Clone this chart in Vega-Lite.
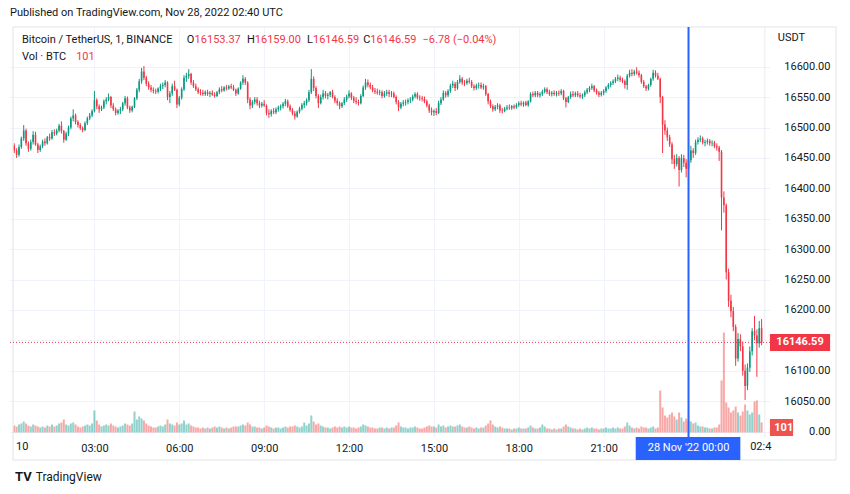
{
"$schema":"https://vega.github.io/schema/vega-lite/v6.json",
"width":761,"height":410,
"autosize":"none",
"padding":{"left":9,"top":27,"right":80,"bottom":57},
"background":"#ffffff",
"config":{"view":{"stroke":null},"font":"Roboto"},
"title":{"text":"Published on TradingView.com, Nov 28, 2022 02:40 UTC","anchor":"start","frame":"group","offset":8,"fontSize":11,"fontWeight":"normal","color":"#131722","font":"Roboto","dx":1},
"datasets":{"one":[{}],"candles":[
{"t":"2022-11-27T00:10","o":16470,"h":16474,"l":16458,"c":16462,"v":70},
{"t":"2022-11-27T00:15","o":16462,"h":16466,"l":16450,"c":16455,"v":60},
{"t":"2022-11-27T00:20","o":16455,"h":16472,"l":16452,"c":16468,"v":80},
{"t":"2022-11-27T00:25","o":16468,"h":16485,"l":16465,"c":16482,"v":90},
{"t":"2022-11-27T00:30","o":16482,"h":16504,"l":16478,"c":16495,"v":110},
{"t":"2022-11-27T00:35","o":16495,"h":16498,"l":16470,"c":16474,"v":90},
{"t":"2022-11-27T00:40","o":16474,"h":16477,"l":16460,"c":16465,"v":70},
{"t":"2022-11-27T00:45","o":16465,"h":16480,"l":16462,"c":16476,"v":60},
{"t":"2022-11-27T00:50","o":16476,"h":16494,"l":16472,"c":16488,"v":80},
{"t":"2022-11-27T00:55","o":16488,"h":16493,"l":16470,"c":16472,"v":70},
{"t":"2022-11-27T01:00","o":16472,"h":16475,"l":16458,"c":16463,"v":60},
{"t":"2022-11-27T01:05","o":16463,"h":16472,"l":16460,"c":16469,"v":50},
{"t":"2022-11-27T01:10","o":16469,"h":16480,"l":16466,"c":16477,"v":60},
{"t":"2022-11-27T01:15","o":16477,"h":16482,"l":16470,"c":16474,"v":50},
{"t":"2022-11-27T01:20","o":16474,"h":16486,"l":16472,"c":16484,"v":70},
{"t":"2022-11-27T01:25","o":16484,"h":16490,"l":16478,"c":16482,"v":60},
{"t":"2022-11-27T01:30","o":16482,"h":16496,"l":16480,"c":16492,"v":80},
{"t":"2022-11-27T01:35","o":16492,"h":16497,"l":16486,"c":16490,"v":60},
{"t":"2022-11-27T01:40","o":16490,"h":16498,"l":16487,"c":16495,"v":70},
{"t":"2022-11-27T01:45","o":16495,"h":16506,"l":16492,"c":16503,"v":90},
{"t":"2022-11-27T01:50","o":16503,"h":16510,"l":16490,"c":16494,"v":100},
{"t":"2022-11-27T01:55","o":16494,"h":16496,"l":16475,"c":16480,"v":130},
{"t":"2022-11-27T02:00","o":16480,"h":16493,"l":16478,"c":16490,"v":80},
{"t":"2022-11-27T02:05","o":16490,"h":16503,"l":16486,"c":16500,"v":70},
{"t":"2022-11-27T02:10","o":16500,"h":16518,"l":16497,"c":16515,"v":90},
{"t":"2022-11-27T02:15","o":16515,"h":16530,"l":16510,"c":16520,"v":100},
{"t":"2022-11-27T02:20","o":16520,"h":16523,"l":16505,"c":16509,"v":80},
{"t":"2022-11-27T02:25","o":16509,"h":16512,"l":16500,"c":16504,"v":60},
{"t":"2022-11-27T02:30","o":16504,"h":16507,"l":16496,"c":16499,"v":50},
{"t":"2022-11-27T02:35","o":16499,"h":16502,"l":16492,"c":16496,"v":60},
{"t":"2022-11-27T02:40","o":16496,"h":16510,"l":16494,"c":16507,"v":70},
{"t":"2022-11-27T02:45","o":16507,"h":16518,"l":16504,"c":16515,"v":80},
{"t":"2022-11-27T02:50","o":16515,"h":16524,"l":16512,"c":16520,"v":70},
{"t":"2022-11-27T02:55","o":16520,"h":16530,"l":16517,"c":16527,"v":90},
{"t":"2022-11-27T03:00","o":16527,"h":16560,"l":16525,"c":16545,"v":220},
{"t":"2022-11-27T03:05","o":16545,"h":16548,"l":16530,"c":16535,"v":120},
{"t":"2022-11-27T03:10","o":16535,"h":16538,"l":16524,"c":16530,"v":80},
{"t":"2022-11-27T03:15","o":16530,"h":16536,"l":16527,"c":16533,"v":60},
{"t":"2022-11-27T03:20","o":16533,"h":16546,"l":16530,"c":16543,"v":70},
{"t":"2022-11-27T03:25","o":16543,"h":16550,"l":16538,"c":16546,"v":80},
{"t":"2022-11-27T03:30","o":16546,"h":16556,"l":16543,"c":16550,"v":70},
{"t":"2022-11-27T03:35","o":16550,"h":16552,"l":16532,"c":16536,"v":90},
{"t":"2022-11-27T03:40","o":16536,"h":16540,"l":16527,"c":16530,"v":70},
{"t":"2022-11-27T03:45","o":16530,"h":16533,"l":16520,"c":16524,"v":60},
{"t":"2022-11-27T03:50","o":16524,"h":16530,"l":16521,"c":16528,"v":50},
{"t":"2022-11-27T03:55","o":16528,"h":16534,"l":16522,"c":16530,"v":60},
{"t":"2022-11-27T04:00","o":16530,"h":16542,"l":16527,"c":16540,"v":70},
{"t":"2022-11-27T04:05","o":16540,"h":16552,"l":16536,"c":16548,"v":90},
{"t":"2022-11-27T04:10","o":16548,"h":16551,"l":16530,"c":16533,"v":80},
{"t":"2022-11-27T04:15","o":16533,"h":16536,"l":16524,"c":16528,"v":70},
{"t":"2022-11-27T04:20","o":16528,"h":16536,"l":16525,"c":16534,"v":90},
{"t":"2022-11-27T04:25","o":16534,"h":16550,"l":16532,"c":16548,"v":210},
{"t":"2022-11-27T04:30","o":16548,"h":16565,"l":16545,"c":16562,"v":130},
{"t":"2022-11-27T04:35","o":16562,"h":16580,"l":16558,"c":16576,"v":160},
{"t":"2022-11-27T04:40","o":16576,"h":16598,"l":16572,"c":16592,"v":140},
{"t":"2022-11-27T04:45","o":16592,"h":16601,"l":16578,"c":16582,"v":120},
{"t":"2022-11-27T04:50","o":16582,"h":16585,"l":16568,"c":16572,"v":90},
{"t":"2022-11-27T04:55","o":16572,"h":16576,"l":16562,"c":16566,"v":70},
{"t":"2022-11-27T05:00","o":16566,"h":16570,"l":16558,"c":16562,"v":60},
{"t":"2022-11-27T05:05","o":16562,"h":16566,"l":16556,"c":16560,"v":50},
{"t":"2022-11-27T05:10","o":16560,"h":16564,"l":16555,"c":16559,"v":50},
{"t":"2022-11-27T05:15","o":16559,"h":16566,"l":16556,"c":16564,"v":60},
{"t":"2022-11-27T05:20","o":16564,"h":16572,"l":16560,"c":16568,"v":70},
{"t":"2022-11-27T05:25","o":16568,"h":16574,"l":16563,"c":16570,"v":60},
{"t":"2022-11-27T05:30","o":16570,"h":16578,"l":16566,"c":16574,"v":80},
{"t":"2022-11-27T05:35","o":16574,"h":16576,"l":16545,"c":16550,"v":130},
{"t":"2022-11-27T05:40","o":16550,"h":16560,"l":16540,"c":16556,"v":90},
{"t":"2022-11-27T05:45","o":16556,"h":16572,"l":16552,"c":16568,"v":80},
{"t":"2022-11-27T05:50","o":16568,"h":16577,"l":16560,"c":16562,"v":70},
{"t":"2022-11-27T05:55","o":16562,"h":16564,"l":16532,"c":16538,"v":100},
{"t":"2022-11-27T06:00","o":16538,"h":16552,"l":16535,"c":16549,"v":80},
{"t":"2022-11-27T06:05","o":16549,"h":16566,"l":16546,"c":16563,"v":90},
{"t":"2022-11-27T06:10","o":16563,"h":16586,"l":16560,"c":16582,"v":120},
{"t":"2022-11-27T06:15","o":16582,"h":16590,"l":16575,"c":16585,"v":80},
{"t":"2022-11-27T06:20","o":16585,"h":16596,"l":16580,"c":16588,"v":90},
{"t":"2022-11-27T06:25","o":16588,"h":16590,"l":16570,"c":16574,"v":70},
{"t":"2022-11-27T06:30","o":16574,"h":16578,"l":16565,"c":16568,"v":60},
{"t":"2022-11-27T06:35","o":16568,"h":16572,"l":16560,"c":16563,"v":50},
{"t":"2022-11-27T06:40","o":16563,"h":16566,"l":16555,"c":16558,"v":50},
{"t":"2022-11-27T06:45","o":16558,"h":16563,"l":16553,"c":16557,"v":40},
{"t":"2022-11-27T06:50","o":16557,"h":16562,"l":16552,"c":16555,"v":50},
{"t":"2022-11-27T06:55","o":16555,"h":16561,"l":16552,"c":16558,"v":40},
{"t":"2022-11-27T07:00","o":16558,"h":16562,"l":16552,"c":16555,"v":50},
{"t":"2022-11-27T07:05","o":16555,"h":16560,"l":16550,"c":16557,"v":40},
{"t":"2022-11-27T07:10","o":16557,"h":16561,"l":16552,"c":16554,"v":50},
{"t":"2022-11-27T07:15","o":16554,"h":16558,"l":16549,"c":16552,"v":60},
{"t":"2022-11-27T07:20","o":16552,"h":16560,"l":16550,"c":16558,"v":50},
{"t":"2022-11-27T07:25","o":16558,"h":16566,"l":16555,"c":16563,"v":60},
{"t":"2022-11-27T07:30","o":16563,"h":16568,"l":16558,"c":16561,"v":50},
{"t":"2022-11-27T07:35","o":16561,"h":16568,"l":16559,"c":16566,"v":40},
{"t":"2022-11-27T07:40","o":16566,"h":16570,"l":16561,"c":16564,"v":50},
{"t":"2022-11-27T07:45","o":16564,"h":16570,"l":16562,"c":16568,"v":40},
{"t":"2022-11-27T07:50","o":16568,"h":16572,"l":16563,"c":16566,"v":50},
{"t":"2022-11-27T07:55","o":16566,"h":16570,"l":16560,"c":16562,"v":60},
{"t":"2022-11-27T08:00","o":16562,"h":16564,"l":16552,"c":16556,"v":60},
{"t":"2022-11-27T08:05","o":16556,"h":16566,"l":16554,"c":16564,"v":60},
{"t":"2022-11-27T08:10","o":16564,"h":16576,"l":16562,"c":16574,"v":70},
{"t":"2022-11-27T08:15","o":16574,"h":16586,"l":16570,"c":16580,"v":80},
{"t":"2022-11-27T08:20","o":16580,"h":16583,"l":16570,"c":16574,"v":70},
{"t":"2022-11-27T08:25","o":16574,"h":16576,"l":16540,"c":16546,"v":100},
{"t":"2022-11-27T08:30","o":16546,"h":16550,"l":16530,"c":16536,"v":80},
{"t":"2022-11-27T08:35","o":16536,"h":16545,"l":16532,"c":16542,"v":60},
{"t":"2022-11-27T08:40","o":16542,"h":16550,"l":16538,"c":16546,"v":60},
{"t":"2022-11-27T08:45","o":16546,"h":16550,"l":16536,"c":16540,"v":50},
{"t":"2022-11-27T08:50","o":16540,"h":16544,"l":16532,"c":16536,"v":50},
{"t":"2022-11-27T08:55","o":16536,"h":16542,"l":16533,"c":16539,"v":40},
{"t":"2022-11-27T09:00","o":16539,"h":16545,"l":16534,"c":16536,"v":50},
{"t":"2022-11-27T09:05","o":16536,"h":16538,"l":16520,"c":16524,"v":70},
{"t":"2022-11-27T09:10","o":16524,"h":16530,"l":16516,"c":16522,"v":60},
{"t":"2022-11-27T09:15","o":16522,"h":16530,"l":16518,"c":16527,"v":50},
{"t":"2022-11-27T09:20","o":16527,"h":16532,"l":16522,"c":16525,"v":40},
{"t":"2022-11-27T09:25","o":16525,"h":16533,"l":16522,"c":16530,"v":50},
{"t":"2022-11-27T09:30","o":16530,"h":16536,"l":16526,"c":16533,"v":50},
{"t":"2022-11-27T09:35","o":16533,"h":16538,"l":16528,"c":16535,"v":40},
{"t":"2022-11-27T09:40","o":16535,"h":16542,"l":16531,"c":16539,"v":50},
{"t":"2022-11-27T09:45","o":16539,"h":16547,"l":16535,"c":16543,"v":60},
{"t":"2022-11-27T09:50","o":16543,"h":16546,"l":16532,"c":16535,"v":50},
{"t":"2022-11-27T09:55","o":16535,"h":16538,"l":16526,"c":16529,"v":60},
{"t":"2022-11-27T10:00","o":16529,"h":16532,"l":16520,"c":16523,"v":60},
{"t":"2022-11-27T10:05","o":16523,"h":16527,"l":16513,"c":16518,"v":70},
{"t":"2022-11-27T10:10","o":16518,"h":16528,"l":16516,"c":16526,"v":60},
{"t":"2022-11-27T10:15","o":16526,"h":16534,"l":16523,"c":16531,"v":50},
{"t":"2022-11-27T10:20","o":16531,"h":16540,"l":16528,"c":16537,"v":60},
{"t":"2022-11-27T10:25","o":16537,"h":16544,"l":16532,"c":16540,"v":100},
{"t":"2022-11-27T10:30","o":16540,"h":16548,"l":16536,"c":16545,"v":70},
{"t":"2022-11-27T10:35","o":16545,"h":16562,"l":16542,"c":16558,"v":90},
{"t":"2022-11-27T10:40","o":16558,"h":16596,"l":16555,"c":16580,"v":170},
{"t":"2022-11-27T10:45","o":16580,"h":16584,"l":16560,"c":16565,"v":110},
{"t":"2022-11-27T10:50","o":16565,"h":16568,"l":16548,"c":16552,"v":80},
{"t":"2022-11-27T10:55","o":16552,"h":16555,"l":16532,"c":16540,"v":90},
{"t":"2022-11-27T11:00","o":16540,"h":16554,"l":16538,"c":16550,"v":70},
{"t":"2022-11-27T11:05","o":16550,"h":16562,"l":16546,"c":16556,"v":60},
{"t":"2022-11-27T11:10","o":16556,"h":16560,"l":16548,"c":16552,"v":50},
{"t":"2022-11-27T11:15","o":16552,"h":16557,"l":16546,"c":16554,"v":50},
{"t":"2022-11-27T11:20","o":16554,"h":16560,"l":16550,"c":16558,"v":40},
{"t":"2022-11-27T11:25","o":16558,"h":16562,"l":16548,"c":16550,"v":50},
{"t":"2022-11-27T11:30","o":16550,"h":16553,"l":16540,"c":16544,"v":60},
{"t":"2022-11-27T11:35","o":16544,"h":16548,"l":16536,"c":16540,"v":50},
{"t":"2022-11-27T11:40","o":16540,"h":16543,"l":16530,"c":16535,"v":60},
{"t":"2022-11-27T11:45","o":16535,"h":16542,"l":16532,"c":16540,"v":50},
{"t":"2022-11-27T11:50","o":16540,"h":16550,"l":16537,"c":16546,"v":60},
{"t":"2022-11-27T11:55","o":16546,"h":16554,"l":16542,"c":16551,"v":50},
{"t":"2022-11-27T12:00","o":16551,"h":16561,"l":16548,"c":16556,"v":60},
{"t":"2022-11-27T12:05","o":16556,"h":16558,"l":16545,"c":16549,"v":50},
{"t":"2022-11-27T12:10","o":16549,"h":16552,"l":16540,"c":16544,"v":50},
{"t":"2022-11-27T12:15","o":16544,"h":16550,"l":16538,"c":16542,"v":40},
{"t":"2022-11-27T12:20","o":16542,"h":16546,"l":16536,"c":16540,"v":50},
{"t":"2022-11-27T12:25","o":16540,"h":16555,"l":16538,"c":16552,"v":60},
{"t":"2022-11-27T12:30","o":16552,"h":16569,"l":16550,"c":16566,"v":80},
{"t":"2022-11-27T12:35","o":16566,"h":16580,"l":16562,"c":16574,"v":70},
{"t":"2022-11-27T12:40","o":16574,"h":16579,"l":16566,"c":16570,"v":60},
{"t":"2022-11-27T12:45","o":16570,"h":16574,"l":16563,"c":16566,"v":50},
{"t":"2022-11-27T12:50","o":16566,"h":16570,"l":16558,"c":16561,"v":50},
{"t":"2022-11-27T12:55","o":16561,"h":16565,"l":16555,"c":16559,"v":40},
{"t":"2022-11-27T13:00","o":16559,"h":16564,"l":16554,"c":16557,"v":40},
{"t":"2022-11-27T13:05","o":16557,"h":16562,"l":16553,"c":16558,"v":50},
{"t":"2022-11-27T13:10","o":16558,"h":16561,"l":16548,"c":16552,"v":50},
{"t":"2022-11-27T13:15","o":16552,"h":16560,"l":16549,"c":16556,"v":40},
{"t":"2022-11-27T13:20","o":16556,"h":16562,"l":16552,"c":16558,"v":50},
{"t":"2022-11-27T13:25","o":16558,"h":16562,"l":16550,"c":16555,"v":40},
{"t":"2022-11-27T13:30","o":16555,"h":16560,"l":16550,"c":16556,"v":50},
{"t":"2022-11-27T13:35","o":16556,"h":16559,"l":16548,"c":16550,"v":50},
{"t":"2022-11-27T13:40","o":16550,"h":16553,"l":16538,"c":16542,"v":70},
{"t":"2022-11-27T13:45","o":16542,"h":16545,"l":16527,"c":16533,"v":100},
{"t":"2022-11-27T13:50","o":16533,"h":16542,"l":16530,"c":16539,"v":60},
{"t":"2022-11-27T13:55","o":16539,"h":16545,"l":16535,"c":16541,"v":50},
{"t":"2022-11-27T14:00","o":16541,"h":16546,"l":16536,"c":16542,"v":50},
{"t":"2022-11-27T14:05","o":16542,"h":16548,"l":16538,"c":16545,"v":40},
{"t":"2022-11-27T14:10","o":16545,"h":16550,"l":16540,"c":16546,"v":50},
{"t":"2022-11-27T14:15","o":16546,"h":16554,"l":16543,"c":16551,"v":50},
{"t":"2022-11-27T14:20","o":16551,"h":16558,"l":16548,"c":16555,"v":60},
{"t":"2022-11-27T14:25","o":16555,"h":16558,"l":16546,"c":16549,"v":50},
{"t":"2022-11-27T14:30","o":16549,"h":16553,"l":16544,"c":16548,"v":40},
{"t":"2022-11-27T14:35","o":16548,"h":16552,"l":16543,"c":16547,"v":40},
{"t":"2022-11-27T14:40","o":16547,"h":16551,"l":16540,"c":16543,"v":50},
{"t":"2022-11-27T14:45","o":16543,"h":16546,"l":16533,"c":16536,"v":60},
{"t":"2022-11-27T14:50","o":16536,"h":16539,"l":16524,"c":16528,"v":70},
{"t":"2022-11-27T14:55","o":16528,"h":16533,"l":16520,"c":16525,"v":60},
{"t":"2022-11-27T15:00","o":16525,"h":16530,"l":16519,"c":16527,"v":60},
{"t":"2022-11-27T15:05","o":16527,"h":16532,"l":16520,"c":16524,"v":50},
{"t":"2022-11-27T15:10","o":16524,"h":16544,"l":16522,"c":16540,"v":80},
{"t":"2022-11-27T15:15","o":16540,"h":16550,"l":16537,"c":16546,"v":60},
{"t":"2022-11-27T15:20","o":16546,"h":16561,"l":16544,"c":16557,"v":70},
{"t":"2022-11-27T15:25","o":16557,"h":16560,"l":16549,"c":16553,"v":50},
{"t":"2022-11-27T15:30","o":16553,"h":16563,"l":16550,"c":16560,"v":60},
{"t":"2022-11-27T15:35","o":16560,"h":16572,"l":16557,"c":16569,"v":70},
{"t":"2022-11-27T15:40","o":16569,"h":16577,"l":16565,"c":16572,"v":60},
{"t":"2022-11-27T15:45","o":16572,"h":16575,"l":16560,"c":16565,"v":60},
{"t":"2022-11-27T15:50","o":16565,"h":16578,"l":16562,"c":16575,"v":70},
{"t":"2022-11-27T15:55","o":16575,"h":16586,"l":16572,"c":16580,"v":80},
{"t":"2022-11-27T16:00","o":16580,"h":16583,"l":16570,"c":16574,"v":60},
{"t":"2022-11-27T16:05","o":16574,"h":16578,"l":16568,"c":16573,"v":50},
{"t":"2022-11-27T16:10","o":16573,"h":16580,"l":16570,"c":16577,"v":50},
{"t":"2022-11-27T16:15","o":16577,"h":16582,"l":16572,"c":16575,"v":60},
{"t":"2022-11-27T16:20","o":16575,"h":16578,"l":16565,"c":16568,"v":50},
{"t":"2022-11-27T16:25","o":16568,"h":16571,"l":16561,"c":16565,"v":40},
{"t":"2022-11-27T16:30","o":16565,"h":16572,"l":16562,"c":16569,"v":50},
{"t":"2022-11-27T16:35","o":16569,"h":16574,"l":16564,"c":16570,"v":40},
{"t":"2022-11-27T16:40","o":16570,"h":16574,"l":16563,"c":16566,"v":50},
{"t":"2022-11-27T16:45","o":16566,"h":16572,"l":16562,"c":16568,"v":50},
{"t":"2022-11-27T16:50","o":16568,"h":16570,"l":16552,"c":16555,"v":70},
{"t":"2022-11-27T16:55","o":16555,"h":16557,"l":16538,"c":16543,"v":90},
{"t":"2022-11-27T17:00","o":16543,"h":16546,"l":16532,"c":16535,"v":120},
{"t":"2022-11-27T17:05","o":16535,"h":16538,"l":16526,"c":16530,"v":80},
{"t":"2022-11-27T17:10","o":16530,"h":16537,"l":16527,"c":16534,"v":60},
{"t":"2022-11-27T17:15","o":16534,"h":16540,"l":16530,"c":16536,"v":50},
{"t":"2022-11-27T17:20","o":16536,"h":16539,"l":16524,"c":16528,"v":60},
{"t":"2022-11-27T17:25","o":16528,"h":16532,"l":16523,"c":16527,"v":50},
{"t":"2022-11-27T17:30","o":16527,"h":16534,"l":16525,"c":16531,"v":40},
{"t":"2022-11-27T17:35","o":16531,"h":16537,"l":16528,"c":16533,"v":40},
{"t":"2022-11-27T17:40","o":16533,"h":16538,"l":16529,"c":16532,"v":40},
{"t":"2022-11-27T17:45","o":16532,"h":16537,"l":16529,"c":16535,"v":30},
{"t":"2022-11-27T17:50","o":16535,"h":16538,"l":16530,"c":16533,"v":40},
{"t":"2022-11-27T17:55","o":16533,"h":16540,"l":16531,"c":16537,"v":40},
{"t":"2022-11-27T18:00","o":16537,"h":16543,"l":16534,"c":16540,"v":50},
{"t":"2022-11-27T18:05","o":16540,"h":16544,"l":16535,"c":16538,"v":40},
{"t":"2022-11-27T18:10","o":16538,"h":16543,"l":16534,"c":16541,"v":40},
{"t":"2022-11-27T18:15","o":16541,"h":16544,"l":16535,"c":16537,"v":40},
{"t":"2022-11-27T18:20","o":16537,"h":16545,"l":16534,"c":16543,"v":50},
{"t":"2022-11-27T18:25","o":16543,"h":16558,"l":16541,"c":16555,"v":70},
{"t":"2022-11-27T18:30","o":16555,"h":16559,"l":16550,"c":16553,"v":50},
{"t":"2022-11-27T18:35","o":16553,"h":16560,"l":16550,"c":16557,"v":40},
{"t":"2022-11-27T18:40","o":16557,"h":16560,"l":16550,"c":16553,"v":40},
{"t":"2022-11-27T18:45","o":16553,"h":16558,"l":16549,"c":16555,"v":50},
{"t":"2022-11-27T18:50","o":16555,"h":16562,"l":16552,"c":16559,"v":80},
{"t":"2022-11-27T18:55","o":16559,"h":16566,"l":16556,"c":16563,"v":60},
{"t":"2022-11-27T19:00","o":16563,"h":16566,"l":16555,"c":16558,"v":40},
{"t":"2022-11-27T19:05","o":16558,"h":16562,"l":16552,"c":16555,"v":40},
{"t":"2022-11-27T19:10","o":16555,"h":16560,"l":16551,"c":16557,"v":30},
{"t":"2022-11-27T19:15","o":16557,"h":16561,"l":16552,"c":16555,"v":40},
{"t":"2022-11-27T19:20","o":16555,"h":16560,"l":16551,"c":16557,"v":30},
{"t":"2022-11-27T19:25","o":16557,"h":16561,"l":16552,"c":16556,"v":40},
{"t":"2022-11-27T19:30","o":16556,"h":16563,"l":16553,"c":16560,"v":40},
{"t":"2022-11-27T19:35","o":16560,"h":16562,"l":16545,"c":16548,"v":60},
{"t":"2022-11-27T19:40","o":16548,"h":16550,"l":16533,"c":16542,"v":80},
{"t":"2022-11-27T19:45","o":16542,"h":16552,"l":16540,"c":16550,"v":60},
{"t":"2022-11-27T19:50","o":16550,"h":16559,"l":16547,"c":16555,"v":50},
{"t":"2022-11-27T19:55","o":16555,"h":16560,"l":16550,"c":16553,"v":40},
{"t":"2022-11-27T20:00","o":16553,"h":16559,"l":16550,"c":16556,"v":40},
{"t":"2022-11-27T20:05","o":16556,"h":16560,"l":16550,"c":16553,"v":30},
{"t":"2022-11-27T20:10","o":16553,"h":16557,"l":16548,"c":16551,"v":40},
{"t":"2022-11-27T20:15","o":16551,"h":16556,"l":16547,"c":16553,"v":30},
{"t":"2022-11-27T20:20","o":16553,"h":16561,"l":16550,"c":16558,"v":40},
{"t":"2022-11-27T20:25","o":16558,"h":16565,"l":16555,"c":16562,"v":50},
{"t":"2022-11-27T20:30","o":16562,"h":16568,"l":16558,"c":16565,"v":40},
{"t":"2022-11-27T20:35","o":16565,"h":16572,"l":16562,"c":16568,"v":50},
{"t":"2022-11-27T20:40","o":16568,"h":16570,"l":16558,"c":16561,"v":40},
{"t":"2022-11-27T20:45","o":16561,"h":16564,"l":16554,"c":16557,"v":40},
{"t":"2022-11-27T20:50","o":16557,"h":16560,"l":16550,"c":16554,"v":30},
{"t":"2022-11-27T20:55","o":16554,"h":16560,"l":16551,"c":16557,"v":40},
{"t":"2022-11-27T21:00","o":16557,"h":16563,"l":16553,"c":16560,"v":40},
{"t":"2022-11-27T21:05","o":16560,"h":16568,"l":16557,"c":16566,"v":50},
{"t":"2022-11-27T21:10","o":16566,"h":16573,"l":16563,"c":16570,"v":40},
{"t":"2022-11-27T21:15","o":16570,"h":16576,"l":16566,"c":16573,"v":40},
{"t":"2022-11-27T21:20","o":16573,"h":16579,"l":16570,"c":16576,"v":50},
{"t":"2022-11-27T21:25","o":16576,"h":16583,"l":16573,"c":16580,"v":40},
{"t":"2022-11-27T21:30","o":16580,"h":16587,"l":16576,"c":16582,"v":50},
{"t":"2022-11-27T21:35","o":16582,"h":16585,"l":16575,"c":16578,"v":40},
{"t":"2022-11-27T21:40","o":16578,"h":16582,"l":16573,"c":16576,"v":40},
{"t":"2022-11-27T21:45","o":16576,"h":16579,"l":16564,"c":16570,"v":60},
{"t":"2022-11-27T21:50","o":16570,"h":16588,"l":16562,"c":16585,"v":100},
{"t":"2022-11-27T21:55","o":16585,"h":16595,"l":16582,"c":16590,"v":70},
{"t":"2022-11-27T22:00","o":16590,"h":16596,"l":16584,"c":16588,"v":50},
{"t":"2022-11-27T22:05","o":16588,"h":16595,"l":16585,"c":16592,"v":40},
{"t":"2022-11-27T22:10","o":16592,"h":16599,"l":16587,"c":16590,"v":50},
{"t":"2022-11-27T22:15","o":16590,"h":16594,"l":16582,"c":16586,"v":40},
{"t":"2022-11-27T22:20","o":16586,"h":16588,"l":16572,"c":16575,"v":60},
{"t":"2022-11-27T22:25","o":16575,"h":16578,"l":16565,"c":16568,"v":50},
{"t":"2022-11-27T22:30","o":16568,"h":16570,"l":16560,"c":16564,"v":50},
{"t":"2022-11-27T22:35","o":16564,"h":16572,"l":16561,"c":16570,"v":40},
{"t":"2022-11-27T22:40","o":16570,"h":16582,"l":16567,"c":16580,"v":50},
{"t":"2022-11-27T22:45","o":16580,"h":16595,"l":16577,"c":16590,"v":60},
{"t":"2022-11-27T22:50","o":16590,"h":16594,"l":16582,"c":16585,"v":40},
{"t":"2022-11-27T22:55","o":16585,"h":16590,"l":16578,"c":16580,"v":50},
{"t":"2022-11-27T23:00","o":16580,"h":16582,"l":16540,"c":16550,"v":420},
{"t":"2022-11-27T23:05","o":16550,"h":16552,"l":16458,"c":16505,"v":250},
{"t":"2022-11-27T23:10","o":16505,"h":16512,"l":16488,"c":16495,"v":170},
{"t":"2022-11-27T23:15","o":16495,"h":16500,"l":16478,"c":16484,"v":150},
{"t":"2022-11-27T23:20","o":16484,"h":16488,"l":16468,"c":16472,"v":180},
{"t":"2022-11-27T23:25","o":16472,"h":16476,"l":16440,"c":16448,"v":200},
{"t":"2022-11-27T23:30","o":16448,"h":16455,"l":16432,"c":16440,"v":160},
{"t":"2022-11-27T23:35","o":16440,"h":16456,"l":16436,"c":16450,"v":130},
{"t":"2022-11-27T23:40","o":16450,"h":16453,"l":16403,"c":16430,"v":200},
{"t":"2022-11-27T23:45","o":16430,"h":16456,"l":16426,"c":16450,"v":150},
{"t":"2022-11-27T23:50","o":16450,"h":16455,"l":16435,"c":16442,"v":110},
{"t":"2022-11-27T23:55","o":16442,"h":16448,"l":16418,"c":16432,"v":140},
{"t":"2022-11-28T00:00","o":16432,"h":16450,"l":16425,"c":16446,"v":120},
{"t":"2022-11-28T00:05","o":16446,"h":16470,"l":16442,"c":16462,"v":110},
{"t":"2022-11-28T00:10","o":16462,"h":16466,"l":16450,"c":16458,"v":90},
{"t":"2022-11-28T00:15","o":16458,"h":16480,"l":16455,"c":16476,"v":100},
{"t":"2022-11-28T00:20","o":16476,"h":16484,"l":16472,"c":16480,"v":70},
{"t":"2022-11-28T00:25","o":16480,"h":16487,"l":16476,"c":16482,"v":60},
{"t":"2022-11-28T00:30","o":16482,"h":16485,"l":16472,"c":16475,"v":60},
{"t":"2022-11-28T00:35","o":16475,"h":16480,"l":16469,"c":16476,"v":50},
{"t":"2022-11-28T00:40","o":16476,"h":16482,"l":16472,"c":16478,"v":50},
{"t":"2022-11-28T00:45","o":16478,"h":16481,"l":16470,"c":16474,"v":40},
{"t":"2022-11-28T00:50","o":16474,"h":16479,"l":16469,"c":16475,"v":40},
{"t":"2022-11-28T00:55","o":16475,"h":16478,"l":16466,"c":16469,"v":50},
{"t":"2022-11-28T01:00","o":16469,"h":16474,"l":16462,"c":16467,"v":50},
{"t":"2022-11-28T01:05","o":16467,"h":16470,"l":16445,"c":16460,"v":80},
{"t":"2022-11-28T01:10","o":16460,"h":16463,"l":16331,"c":16385,"v":520},
{"t":"2022-11-28T01:15","o":16385,"h":16395,"l":16360,"c":16372,"v":1000},
{"t":"2022-11-28T01:20","o":16372,"h":16375,"l":16250,"c":16262,"v":300},
{"t":"2022-11-28T01:25","o":16262,"h":16268,"l":16205,"c":16215,"v":250},
{"t":"2022-11-28T01:30","o":16215,"h":16225,"l":16188,"c":16198,"v":200},
{"t":"2022-11-28T01:35","o":16198,"h":16205,"l":16165,"c":16172,"v":220},
{"t":"2022-11-28T01:40","o":16172,"h":16176,"l":16108,"c":16120,"v":260},
{"t":"2022-11-28T01:45","o":16120,"h":16162,"l":16115,"c":16152,"v":200},
{"t":"2022-11-28T01:50","o":16152,"h":16160,"l":16132,"c":16140,"v":170},
{"t":"2022-11-28T01:55","o":16140,"h":16148,"l":16092,"c":16100,"v":210},
{"t":"2022-11-28T02:00","o":16100,"h":16110,"l":16052,"c":16075,"v":280},
{"t":"2022-11-28T02:05","o":16075,"h":16112,"l":16068,"c":16105,"v":220},
{"t":"2022-11-28T02:10","o":16105,"h":16140,"l":16098,"c":16132,"v":180},
{"t":"2022-11-28T02:15","o":16132,"h":16170,"l":16125,"c":16165,"v":200},
{"t":"2022-11-28T02:20","o":16165,"h":16190,"l":16150,"c":16158,"v":310},
{"t":"2022-11-28T02:25","o":16158,"h":16168,"l":16090,"c":16145,"v":320},
{"t":"2022-11-28T02:30","o":16145,"h":16182,"l":16138,"c":16170,"v":180},
{"t":"2022-11-28T02:35","o":16170,"h":16185,"l":16142,"c":16146.59,"v":101}
]},
"layer":[
{"data":{"name":"candles"},
 "mark":{"type":"bar","size":2,"opacity":0.5},
 "encoding":{
  "x":{"field":"t","type":"temporal",
   "scale":{"domain":[{"year":2022,"month":11,"date":27,"hours":0,"minutes":9,"seconds":25},{"year":2022,"month":11,"date":28,"hours":2,"minutes":42,"seconds":13}]},
   "axis":{"title":null,"format":"%H:%M","values":[{"year":2022,"month":11,"date":27,"hours":3},{"year":2022,"month":11,"date":27,"hours":6},{"year":2022,"month":11,"date":27,"hours":9},{"year":2022,"month":11,"date":27,"hours":12},{"year":2022,"month":11,"date":27,"hours":15},{"year":2022,"month":11,"date":27,"hours":18},{"year":2022,"month":11,"date":27,"hours":21}],
    "ticks":false,"domain":false,"labelPadding":5,"labelFontSize":11,"labelColor":"#131722","labelFont":"Roboto","labelFlush":false,"grid":true,"gridColor":"#f0f3fa"}},
  "y":{"field":"v","type":"quantitative","scale":{"domain":[-45,4055],"nice":false,"zero":false},"axis":null},
  "y2":{"datum":0},
  "color":{"condition":{"test":"datum.c >= datum.o","value":"#26a69a"},"value":"#ef5350"}}},
{"data":{"name":"one"},
 "mark":{"type":"rule","strokeOpacity":0},
 "encoding":{
  "y":{"datum":16300,"type":"quantitative","scale":{"domain":[15991,16665.3],"nice":false,"zero":false},
   "axis":{"orient":"right","title":null,"values":[16000,16050,16100,16150,16200,16250,16300,16350,16400,16450,16500,16550,16600],"labelExpr":"datum.value == 16000 ? '0.00' : (datum.value == 16150 ? '' : format(datum.value, '.2f'))","labelAlign":"right","labelPadding":60,"labelOverlap":false,"ticks":false,"domain":false,"grid":true,"gridColor":"#f0f3fa","labelFontSize":11,"labelColor":"#131722","labelFont":"Roboto"}}}},
{"layer":[
 {"data":{"name":"one"},"mark":{"type":"rule","strokeWidth":1,"color":"#e9ecf2"},
  "encoding":{"x":{"datum":{"year":2022,"month":11,"date":28,"hours":2,"minutes":42},"type":"temporal"}}},
 {"data":{"name":"candles"},
  "mark":{"type":"rule","strokeWidth":1},
  "encoding":{
   "x":{"field":"t","type":"temporal"},
   "y":{"field":"l","type":"quantitative","scale":{"domain":[15991,16665.3],"nice":false,"zero":false},"axis":null},
   "y2":{"field":"h"},
   "color":{"condition":{"test":"datum.c >= datum.o","value":"#089981"},"value":"#f23645"}}},
 {"data":{"name":"candles"},
  "mark":{"type":"bar","size":1.6},
  "encoding":{
   "x":{"field":"t","type":"temporal"},
   "y":{"field":"o","type":"quantitative","axis":null},
   "y2":{"field":"c"},
   "color":{"condition":{"test":"datum.c >= datum.o","value":"#089981"},"value":"#f23645"}}},
 {"data":{"name":"one"},"mark":{"type":"rect","fillOpacity":0,"stroke":"#e0e3eb","strokeWidth":1},
  "encoding":{"x":{"datum":{"year":2022,"month":11,"date":27,"hours":0,"minutes":7,"seconds":20},"type":"temporal"},"x2":{"datum":{"year":2022,"month":11,"date":28,"hours":5,"minutes":12,"seconds":54}},"y":{"datum":16665.3,"type":"quantitative","axis":null},"y2":{"datum":15953.1}}},
 {"data":{"name":"one"},"mark":{"type":"rule","strokeWidth":1,"strokeDash":[1,2],"color":"#f23645"},
  "encoding":{"y":{"datum":16146.59,"type":"quantitative","axis":null}}},
 {"data":{"name":"one"},"mark":{"type":"rule","strokeWidth":2,"color":"#2962ff"},
  "encoding":{"x":{"datum":{"year":2022,"month":11,"date":28,"hours":0},"type":"temporal"}}},
 {"data":{"name":"one"},"mark":{"type":"rect","color":"#2962ff"},
  "encoding":{"x":{"datum":{"year":2022,"month":11,"date":27,"hours":22,"minutes":8},"type":"temporal"},"x2":{"datum":{"year":2022,"month":11,"date":28,"hours":1,"minutes":49,"seconds":54}},"y":{"datum":15991,"type":"quantitative","axis":null},"y2":{"datum":15953.1}}},
 {"data":{"name":"one"},"mark":{"type":"text","align":"center","baseline":"middle","fontSize":11,"color":"#ffffff","font":"Roboto"},
  "encoding":{"x":{"datum":{"year":2022,"month":11,"date":28,"hours":0},"type":"temporal"},"y":{"datum":15972.5,"type":"quantitative","axis":null},"text":{"value":"28 Nov '22   00:00"}}},
 {"data":{"name":"one"},"mark":{"type":"rect","color":"#f23645"},
  "encoding":{"x":{"datum":{"year":2022,"month":11,"date":28,"hours":2,"minutes":52,"seconds":42},"type":"temporal"},"x2":{"datum":{"year":2022,"month":11,"date":28,"hours":5,"minutes":0,"seconds":18}},"y":{"datum":16160.4,"type":"quantitative","axis":null},"y2":{"datum":16132.4}}},
 {"data":{"name":"one"},"mark":{"type":"text","align":"center","baseline":"middle","fontSize":11,"fontWeight":"bold","color":"#ffffff","font":"Roboto"},
  "encoding":{"x":{"datum":{"year":2022,"month":11,"date":28,"hours":3,"minutes":56,"seconds":30},"type":"temporal"},"y":{"datum":16146.59,"type":"quantitative","axis":null},"text":{"value":"16146.59"}}},
 {"data":{"name":"one"},"mark":{"type":"rect","color":"#ef5350"},
  "encoding":{"x":{"datum":{"year":2022,"month":11,"date":28,"hours":2,"minutes":52,"seconds":42},"type":"temporal"},"x2":{"datum":{"year":2022,"month":11,"date":28,"hours":3,"minutes":41,"seconds":48}},"y":{"datum":16020.6,"type":"quantitative","axis":null},"y2":{"datum":15992.6}}},
 {"data":{"name":"one"},"mark":{"type":"text","align":"center","baseline":"middle","fontSize":11,"fontWeight":"bold","color":"#ffffff","font":"Roboto"},
  "encoding":{"x":{"datum":{"year":2022,"month":11,"date":28,"hours":3,"minutes":22},"type":"temporal"},"y":{"datum":16006.6,"type":"quantitative","axis":null},"text":{"value":"101"}}},
 {"data":{"name":"one"},"mark":{"type":"text","align":"left","baseline":"middle","fontSize":11,"color":"#131722","font":"Roboto"},
  "encoding":{"x":{"datum":{"year":2022,"month":11,"date":28,"hours":3,"minutes":9,"seconds":24},"type":"temporal"},"y":{"datum":16647.2,"type":"quantitative","axis":null},"text":{"value":"USDT"}}},
 {"data":{"name":"one"},"mark":{"type":"text","align":"center","baseline":"middle","fontSize":11,"color":"#131722","font":"Roboto"},
  "encoding":{"x":{"datum":{"year":2022,"month":11,"date":27,"hours":0,"minutes":27},"type":"temporal"},"y":{"datum":15974.5,"type":"quantitative","axis":null},"text":{"value":"10"}}},
 {"data":{"name":"one"},"mark":{"type":"text","align":"left","baseline":"middle","fontSize":11,"color":"#131722","font":"Roboto"},
  "encoding":{"x":{"datum":{"year":2022,"month":11,"date":28,"hours":2,"minutes":10,"seconds":48},"type":"temporal"},"y":{"datum":15974.5,"type":"quantitative","axis":null},"text":{"value":"02:4"}}},
 {"data":{"name":"one"},"mark":{"type":"text","align":"left","baseline":"middle","fontSize":11,"color":"#131722","font":"Roboto"},
  "encoding":{"x":{"datum":{"year":2022,"month":11,"date":27,"hours":0,"minutes":26,"seconds":10},"type":"temporal"},"y":{"datum":16643.4,"type":"quantitative","axis":null},"text":{"value":"Bitcoin / TetherUS, 1, BINANCE"}}},
 {"data":{"name":"one"},"mark":{"type":"text","align":"left","baseline":"middle","fontSize":11,"color":"#131722","font":"Roboto"},
  "encoding":{"x":{"datum":{"year":2022,"month":11,"date":27,"hours":6,"minutes":15,"seconds":40},"type":"temporal"},"y":{"datum":16643.4,"type":"quantitative","axis":null},"text":{"value":"O"}}},
 {"data":{"name":"one"},"mark":{"type":"text","align":"left","baseline":"middle","fontSize":11,"color":"#f23645","font":"Roboto"},
  "encoding":{"x":{"datum":{"year":2022,"month":11,"date":27,"hours":6,"minutes":32,"seconds":25},"type":"temporal"},"y":{"datum":16643.4,"type":"quantitative","axis":null},"text":{"value":"16153.37"}}},
 {"data":{"name":"one"},"mark":{"type":"text","align":"left","baseline":"middle","fontSize":11,"color":"#131722","font":"Roboto"},
  "encoding":{"x":{"datum":{"year":2022,"month":11,"date":27,"hours":8,"minutes":23,"seconds":25},"type":"temporal"},"y":{"datum":16643.4,"type":"quantitative","axis":null},"text":{"value":"H"}}},
 {"data":{"name":"one"},"mark":{"type":"text","align":"left","baseline":"middle","fontSize":11,"color":"#f23645","font":"Roboto"},
  "encoding":{"x":{"datum":{"year":2022,"month":11,"date":27,"hours":8,"minutes":40,"seconds":5},"type":"temporal"},"y":{"datum":16643.4,"type":"quantitative","axis":null},"text":{"value":"16159.00"}}},
 {"data":{"name":"one"},"mark":{"type":"text","align":"left","baseline":"middle","fontSize":11,"color":"#131722","font":"Roboto"},
  "encoding":{"x":{"datum":{"year":2022,"month":11,"date":27,"hours":10,"minutes":31},"type":"temporal"},"y":{"datum":16643.4,"type":"quantitative","axis":null},"text":{"value":"L"}}},
 {"data":{"name":"one"},"mark":{"type":"text","align":"left","baseline":"middle","fontSize":11,"color":"#f23645","font":"Roboto"},
  "encoding":{"x":{"datum":{"year":2022,"month":11,"date":27,"hours":10,"minutes":43,"seconds":35},"type":"temporal"},"y":{"datum":16643.4,"type":"quantitative","axis":null},"text":{"value":"16146.59"}}},
 {"data":{"name":"one"},"mark":{"type":"text","align":"left","baseline":"middle","fontSize":11,"color":"#131722","font":"Roboto"},
  "encoding":{"x":{"datum":{"year":2022,"month":11,"date":27,"hours":12,"minutes":30,"seconds":20},"type":"temporal"},"y":{"datum":16643.4,"type":"quantitative","axis":null},"text":{"value":"C"}}},
 {"data":{"name":"one"},"mark":{"type":"text","align":"left","baseline":"middle","fontSize":11,"color":"#f23645","font":"Roboto"},
  "encoding":{"x":{"datum":{"year":2022,"month":11,"date":27,"hours":12,"minutes":45},"type":"temporal"},"y":{"datum":16643.4,"type":"quantitative","axis":null},"text":{"value":"16146.59"}}},
 {"data":{"name":"one"},"mark":{"type":"text","align":"left","baseline":"middle","fontSize":11,"color":"#f23645","font":"Roboto"},
  "encoding":{"x":{"datum":{"year":2022,"month":11,"date":27,"hours":14,"minutes":35,"seconds":55},"type":"temporal"},"y":{"datum":16643.4,"type":"quantitative","axis":null},"text":{"value":"−6.78 (−0.04%)"}}},
 {"data":{"name":"one"},"mark":{"type":"text","align":"left","baseline":"middle","fontSize":11,"color":"#131722","font":"Roboto"},
  "encoding":{"x":{"datum":{"year":2022,"month":11,"date":27,"hours":0,"minutes":26,"seconds":10},"type":"temporal"},"y":{"datum":16616.4,"type":"quantitative","axis":null},"text":{"value":"Vol · BTC"}}},
 {"data":{"name":"one"},"mark":{"type":"text","align":"left","baseline":"middle","fontSize":11,"color":"#f23645","font":"Roboto"},
  "encoding":{"x":{"datum":{"year":2022,"month":11,"date":27,"hours":2,"minutes":21,"seconds":16},"type":"temporal"},"y":{"datum":16616.4,"type":"quantitative","axis":null},"text":{"value":"101"}}},
 {"data":{"name":"one"},"mark":{"type":"text","align":"left","baseline":"middle","fontSize":13,"fontWeight":"bold","color":"#131722","font":"Roboto"},
  "encoding":{"x":{"datum":{"year":2022,"month":11,"date":27,"hours":0,"minutes":11,"seconds":30},"type":"temporal"},"y":{"datum":15925.2,"type":"quantitative","axis":null},"text":{"value":"TV"}}},
 {"data":{"name":"one"},"mark":{"type":"text","align":"left","baseline":"middle","fontSize":12,"color":"#131722","font":"Roboto"},
  "encoding":{"x":{"datum":{"year":2022,"month":11,"date":27,"hours":0,"minutes":55,"seconds":30},"type":"temporal"},"y":{"datum":15925.2,"type":"quantitative","axis":null},"text":{"value":"TradingView"}}}
]}
],
"resolve":{"scale":{"y":"independent"}}
}
